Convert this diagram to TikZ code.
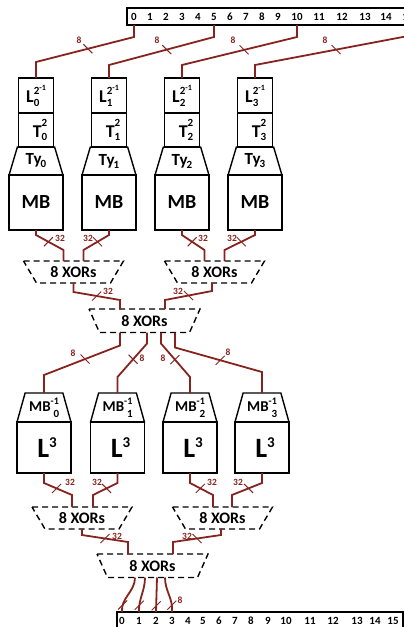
\documentclass[tikz,border=0pt]{standalone}
\usepackage{fontspec}
\setmainfont{Carlito}
\usetikzlibrary{shapes.geometric}
\definecolor{wirered}{RGB}{135,35,30}
\newcommand\fsz[1]{\fontsize{#1}{#1}\selectfont}
\newcommand\mysupsub[4]{\makebox[0pt][l]{\raisebox{-#4}{#2}}\raisebox{#3}{#1}}
\newcommand\tkL[1]{\draw[tk] ([shift={(-4.5,-4.5)}]#1) -- ([shift={(4.5,4.5)}]#1);}
\newcommand\tkR[1]{\draw[tk] ([shift={(-4.5,4.5)}]#1) -- ([shift={(4.5,-4.5)}]#1);}
\newcommand\xorframe[2]{\draw[xorline] (#1.north west) -- (#1.north east) -- ([xshift=-#2]#1.south east) -- ([xshift=#2]#1.south west) -- cycle;}
\tikzset{
  blk/.style={draw, line width=1.4pt, inner sep=0pt, outer sep=0pt, anchor=north, font=\bfseries},
  lbox/.style={blk, minimum width=35pt, minimum height=35pt},
  tbox/.style={blk, minimum width=35pt, minimum height=34pt},
  trap/.style={blk, trapezium, trapezium left angle=72, trapezium right angle=72, trapezium stretches=true, minimum width=54pt, minimum height=28pt},
  mbbox/.style={blk, minimum width=54pt, minimum height=55pt},
  lthree/.style={blk, minimum width=54pt, minimum height=51pt},
  xorS/.style={blk, draw=none, minimum width=100pt, minimum height=22pt},
  xorB/.style={blk, draw=none, minimum width=111pt, minimum height=23.5pt},
  xorline/.style={draw=black, line width=1.4pt, dash pattern=on 6pt off 4pt},
  wire/.style={draw=wirered, line width=1.8pt},
  tk/.style={draw=wirered, line width=1pt},
  buslbl/.style={text=wirered, font=\bfseries\fsz{9.5}, inner sep=0pt},
  bar/.style={draw, line width=1.6pt, inner sep=0pt, outer sep=0pt},
  num/.style={font=\bfseries\fsz{11}, inner sep=0pt}
}
\begin{document}
\begin{tikzpicture}[x=1pt,y=-1pt]
\clip (0,0) rectangle (404,627);
% bars
\node[bar, minimum width=300pt, minimum height=17pt, anchor=north west] (tbar) at (127,8) {};
\foreach \n/\x in {0/134,1/150,2/166,3/182,4/198,5/214,6/230,7/246,8/262,9/278,10/297,11/319,12/342,13/365,14/386,15/408}
  \node[num] (t\n) at (\x,17) {\n};
\node[bar, minimum width=286pt, minimum height=18pt, anchor=north west] (bbar) at (117,612) {};
\foreach \n/\x in {0/122,1/139,2/156,3/172,4/188,5/203,6/219,7/235,8/251,9/268,10/286,11/310,12/333,13/357,14/375,15/393}
  \node[num] (b\n) at (\x,620.5) {\n};
% upper columns
\foreach \i/\cx in {0/36,1/109,2/182,3/255}{
  \node[lbox] (l\i) at (\cx,78) {{\fsz{18}L}\mysupsub{\fsz{11}2\raisebox{4pt}{\fsz{8}-1}}{\fsz{11}\i}{8pt}{4pt}};
  \node[tbox] (tt\i) at (l\i.south) {\hspace{8pt}{\fsz{18}T}\mysupsub{\fsz{11}2}{\fsz{11}\i}{11pt}{3pt}};
  \node[trap] (ty\i) at (tt\i.south) {{\fsz{17}Ty}\kern-1pt\raisebox{-3pt}{\fsz{11}\i}};
  \node[mbbox] (mb\i) at (ty\i.south) {\fsz{20}MB};
}
% XOR stages
\node[xorS] (x1) at (73.5,261) {\fsz{16}8 XORs};
\node[xorS] (x2) at (214.5,261) {\fsz{16}8 XORs};
\node[xorB] (x0) at (144.5,309) {\fsz{16}8 XORs};
\xorframe{x1}{13pt}
\xorframe{x2}{13pt}
\xorframe{x0}{10.5pt}
% lower columns
\foreach \i/\cx in {0/44,1/117.5,2/190,3/262}{
  \node[trap, minimum height=29pt] (mi\i) at (\cx,393) {{\fsz{15}MB}\mysupsub{\fsz{10}-1}{\hspace{3pt}\fsz{11}\i}{7pt}{6pt}};
  \node[lthree] (lt\i) at (mi\i.south) {\hspace{6pt}{\fsz{28}L}\raisebox{10pt}{\fsz{15}3}};
}
\node[xorS] (x3) at (82,507) {\fsz{16}8 XORs};
\node[xorS] (x4) at (222.5,507) {\fsz{16}8 XORs};
\node[xorB] (x5) at (152.5,554) {\fsz{16}8 XORs};
\xorframe{x3}{13pt}
\xorframe{x4}{13pt}
\xorframe{x5}{10.5pt}
% wires: input bar to L boxes
\draw[wire] (t0 |- tbar.south) -- ++(0,12) -- coordinate[pos=.47] (k1) ([yshift=16pt]l0.north) -- (l0.north);
\draw[wire] (t5 |- tbar.south) -- ++(0,12) -- coordinate[pos=.45] (k2) ([yshift=13pt]l1.north) -- (l1.north);
\draw[wire] (t10 |- tbar.south) -- ++(0,12) -- coordinate[pos=.46] (k3) ([yshift=13pt]l2.north) -- (l2.north);
\draw[wire] (t15 |- tbar.south) -- ++(0,11) -- coordinate[pos=.47] (k4) ([yshift=13pt]l3.north) -- (l3.north);
% MB to first XORs
\draw[wire] (mb0.south) -- ++(0,5) -- coordinate[pos=.45] (k5) ([xshift=-10pt,yshift=11pt]x1.north) -- ([xshift=-10pt]x1.north);
\draw[wire] (mb1.south) -- ++(0,5) -- coordinate[pos=.45] (k6) ([xshift=10pt,yshift=11pt]x1.north) -- ([xshift=10pt]x1.north);
\draw[wire] (mb2.south) -- ++(0,5) -- coordinate[pos=.45] (k7) ([xshift=-10pt,yshift=11pt]x2.north) -- ([xshift=-10pt]x2.north);
\draw[wire] (mb3.south) -- ++(0,5) -- coordinate[pos=.45] (k8) ([xshift=10pt,yshift=11pt]x2.north) -- ([xshift=10pt]x2.north);
% first XORs to middle XOR
\draw[wire] (x1.south) -- ++(0,9) -- coordinate[pos=.5] (k9) ([xshift=-24.5pt,yshift=9pt]x0.north) -- ([xshift=-24.5pt]x0.north);
\draw[wire] ([xshift=-2.5pt]x2.south) -- ++(0,8) -- coordinate[pos=.5] (k10) ([xshift=20.5pt,yshift=9pt]x0.north) -- ([xshift=20.5pt]x0.north);
% middle XOR to MB^-1
\draw[wire] ([xshift=-24.5pt]x0.south) -- ++(0,13) -- coordinate[pos=.46] (k11) ([yshift=18pt]mi0.north) -- (mi0.north);
\draw[wire] ([xshift=2.5pt]x0.south) -- ++(0,11) -- coordinate[pos=.47] (k12) ([yshift=16pt]mi1.north) -- (mi1.north);
\draw[wire] ([xshift=16.5pt]x0.south) -- ++(0,11) -- coordinate[pos=.48] (k13) ([yshift=16pt]mi2.north) -- (mi2.north);
\draw[wire] ([xshift=30.5pt]x0.south) -- ++(0,15) -- coordinate[pos=.52] (k14) ([yshift=21pt]mi3.north) -- (mi3.north);
% L3 to lower XORs
\draw[wire] (lt0.south) -- ++(0,10) -- coordinate[pos=.45] (k15) ([xshift=-10pt,yshift=12pt]x3.north) -- ([xshift=-10pt]x3.north);
\draw[wire] (lt1.south) -- ++(0,10) -- coordinate[pos=.45] (k16) ([xshift=11pt,yshift=12pt]x3.north) -- ([xshift=11pt]x3.north);
\draw[wire] (lt2.south) -- ++(0,10) -- coordinate[pos=.45] (k17) ([xshift=-9.5pt,yshift=12pt]x4.north) -- ([xshift=-9.5pt]x4.north);
\draw[wire] (lt3.south) -- ++(0,10) -- coordinate[pos=.45] (k18) ([xshift=9.5pt,yshift=12pt]x4.north) -- ([xshift=9.5pt]x4.north);
% lower XORs to last XOR
\draw[wire] (x3.south) -- ++(0,6) -- coordinate[pos=.5] (k19) ([xshift=-24.5pt,yshift=12pt]x5.north) -- ([xshift=-24.5pt]x5.north);
\draw[wire] ([xshift=-1.5pt]x4.south) -- ++(0,6) -- coordinate[pos=.5] (k20) ([xshift=20.5pt,yshift=12pt]x5.north) -- ([xshift=20.5pt]x5.north);
% last XOR to output bar
\draw[wire] ([xshift=-17.5pt]x5.south) to[out=-90,in=95] coordinate[pos=.82] (k21) (b0 |- bbar.north);
\draw[wire] ([xshift=-7.5pt]x5.south) to[out=-90,in=92] coordinate[pos=.82] (k22) (b1 |- bbar.north);
\draw[wire] ([xshift=4.5pt]x5.south) -- coordinate[pos=.82] (k23) (b2 |- bbar.north);
\draw[wire] ([xshift=12.5pt]x5.south) to[out=-90,in=85] coordinate[pos=.82] (k24) (b3 |- bbar.north);
% bus width marks
\tkL{k1}\tkL{k2}\tkL{k3}\tkL{k4}
\tkR{k5}\tkL{k6}\tkR{k7}\tkL{k8}
\tkR{k9}\tkL{k10}
\tkL{k11}\tkL{k12}\tkR{k13}\tkR{k14}
\tkR{k15}\tkL{k16}\tkR{k17}\tkL{k18}
\tkR{k19}\tkL{k20}
\tkR{k21}\tkR{k22}\tkR{k23}\tkR{k24}
% bus width labels
\node[buslbl] (n1) at (79,40) {8};
\node[buslbl] (n2) at (157,40) {8};
\node[buslbl] (n3) at (233,40) {8};
\node[buslbl] (n4) at (325,40) {8};
\node[buslbl] (n5) at (60,238) {32};
\node[buslbl] (n6) at (88,238) {32};
\node[buslbl] (n7) at (203,238) {32};
\node[buslbl] (n8) at (232,238) {32};
\node[buslbl] (n9) at (108,291) {32};
\node[buslbl] (n10) at (178,291) {32};
\node[buslbl] (n11) at (73,353) {8};
\node[buslbl] (n12) at (142,358) {8};
\node[buslbl] (n13) at (163,358) {8};
\node[buslbl] (n14) at (228,352) {8};
\node[buslbl] (n15) at (70,482) {32};
\node[buslbl] (n16) at (97,482) {32};
\node[buslbl] (n17) at (212,482) {32};
\node[buslbl] (n18) at (238,482) {32};
\node[buslbl] (n19) at (117,536) {32};
\node[buslbl] (n20) at (187,536) {32};
\node[buslbl] (n21) at (180,600) {8};
\end{tikzpicture}
\end{document}
